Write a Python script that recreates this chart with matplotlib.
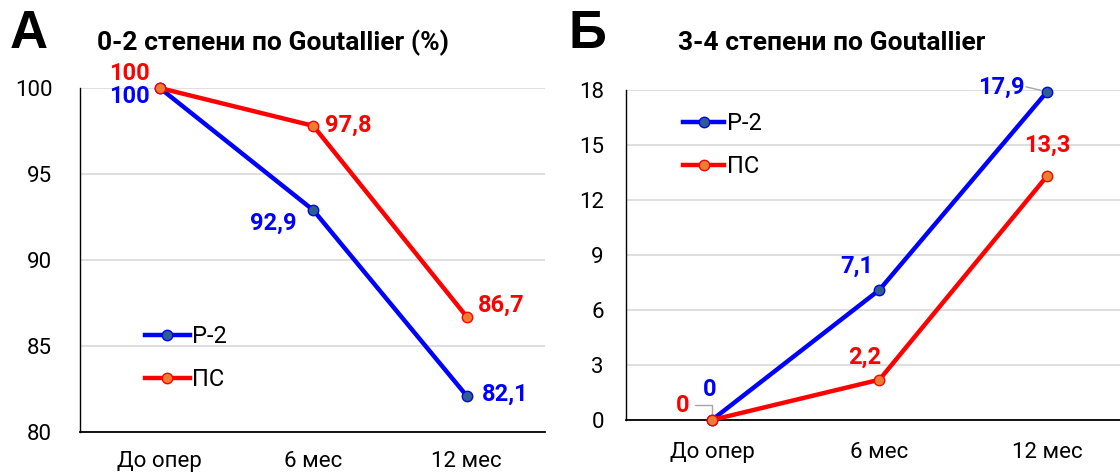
import numpy as np
import matplotlib
matplotlib.use('Agg')
import matplotlib.pyplot as plt

plt.rcParams['font.family'] = ['Roboto', 'DejaVu Sans']

# data
categories = ['До опер', '6 мес', '12 мес']
series_names = ['Р-2', 'ПС']

low_r2 = [100, 92.9, 82.1]      # 0-2 степени, Р-2
low_ps = [100, 97.8, 86.7]      # 0-2 степени, ПС
high_r2 = [0, 7.1, 17.9]        # 3-4 степени, Р-2
high_ps = [0, 2.2, 13.3]        # 3-4 степени, ПС

low_ticks = [80, 85, 90, 95, 100]
high_ticks = [0, 3, 6, 9, 12, 15, 18]

blue = '#0000FF'
red = '#FF0000'
blue_face = '#2E5E8C'
red_face = '#ED7D31'

W, H = 1120, 476
fig = plt.figure(figsize=(W / 100, H / 100), dpi=100)

def fx(px):
    return px / W

def fy(py):
    return 1 - py / H

axA = fig.add_axes([fx(80), fy(432), fx(545 - 80), fy(88) - fy(432)])
axB = fig.add_axes([fx(626), fy(420), fx(1120 - 626), fy(90) - fy(420)])

def fmt(v):
    return ('%g' % v).replace('.', ',')

def style(ax, ticks, ylim, xlim, ypad, xpad):
    ax.set_ylim(*ylim)
    ax.set_xlim(*xlim)
    ax.set_yticks(ticks)
    ax.set_xticks(range(len(categories)))
    ax.set_xticklabels(categories)
    ax.tick_params(length=0, labelsize=16)
    ax.tick_params(axis='y', pad=ypad)
    ax.tick_params(axis='x', pad=xpad)
    ax.grid(axis='y', color='#D9D9D9', lw=1.2)
    ax.set_axisbelow(True)
    for s in ['top', 'right']:
        ax.spines[s].set_visible(False)
    ax.spines['left'].set_color('black')
    ax.spines['bottom'].set_color('black')
    ax.spines['left'].set_linewidth(1.0)
    ax.spines['bottom'].set_linewidth(1.3)

def draw(ax, r2, ps):
    x = np.arange(len(categories))
    ax.plot(x, r2, color=blue, lw=3.2, marker='o', ms=7.5,
            mfc=blue_face, mec=blue, mew=1, clip_on=False, zorder=3,
            label=series_names[0])
    ax.plot(x, ps, color=red, lw=3.2, marker='o', ms=7.5,
            mfc=red_face, mec=red, mew=1, clip_on=False, zorder=4,
            label=series_names[1])

def label(ax, i, v, color, dx, dy, ha='center'):
    ax.annotate(fmt(v), (i, v), xytext=(dx, dy), textcoords='offset points',
                ha=ha, va='center', color=color, fontsize=17,
                fontweight='bold', annotation_clip=False, zorder=6)

# panel A
style(axA, low_ticks, (80, 100), (-0.52, 2.51), 20, 14)
draw(axA, low_r2, low_ps)
label(axA, 0, low_ps[0], red, -21.6, 10.8)
label(axA, 0, low_r2[0], blue, -21.6, -5.8)
label(axA, 1, low_ps[1], red, 8.6, 0.5, ha='left')
label(axA, 1, low_r2[1], blue, -28.8, -9.4)
label(axA, 2, low_ps[2], red, 8, 8.6, ha='left')
label(axA, 2, low_r2[2], blue, 11, 1.4, ha='left')
axA.legend(loc='upper left', bbox_to_anchor=(fx(145), fy(325)),
           bbox_transform=fig.transFigure, frameon=False, fontsize=17,
           borderpad=0, borderaxespad=0, handlelength=1.9,
           handletextpad=0.1, labelspacing=0.85, numpoints=1)

# panel B
style(axB, high_ticks, (0, 18), (-0.513, 2.436), 16, 16)
draw(axB, high_r2, high_ps)
label(axB, 2, high_r2[2], blue, -16, 3.6, ha='right')
label(axB, 2, high_ps[2], red, 0, 22)
label(axB, 1, high_r2[1], blue, -16.6, 16.6)
label(axB, 1, high_ps[1], red, -10.8, 15.8)
label(axB, 0, high_r2[0], blue, -1.5, 21.6)
label(axB, 0, high_ps[0], red, -21, 10.8)
# leader lines
axB.annotate('', (2, high_r2[2]), xytext=(-15, 3.6), textcoords='offset points',
             arrowprops=dict(arrowstyle='-', color='#A6A6A6', lw=1,
                             shrinkA=0, shrinkB=4), annotation_clip=False)
axB.annotate('', (0, high_ps[0]), xytext=(-12, 10.8), textcoords='offset points',
             arrowprops=dict(arrowstyle='-', color='#A6A6A6', lw=1,
                             connectionstyle='angle,angleA=0,angleB=90,rad=0',
                             shrinkA=0, shrinkB=5), annotation_clip=False)
axB.legend(loc='upper left', bbox_to_anchor=(fx(683), fy(112)),
           bbox_transform=fig.transFigure, frameon=False, fontsize=17,
           borderpad=0, borderaxespad=0, handlelength=1.75,
           handletextpad=0.1, labelspacing=0.85, numpoints=1)

# titles and panel letters
fig.text(fx(10), fy(34), 'А', fontsize=38, fontweight='bold',
         family=['Liberation Sans', 'DejaVu Sans'], va='center', ha='left')
fig.text(fx(568), fy(34), 'Б', fontsize=38, fontweight='bold',
         family=['Liberation Sans', 'DejaVu Sans'], va='center', ha='left')
fig.text(fx(97), fy(43), '0-2 степени по Goutallier (%)', fontsize=19,
         fontweight='bold', va='center', ha='left')
fig.text(fx(678), fy(43), '3-4 степени по Goutallier', fontsize=19,
         fontweight='bold', va='center', ha='left')

fig.savefig('out.png', dpi=100)
